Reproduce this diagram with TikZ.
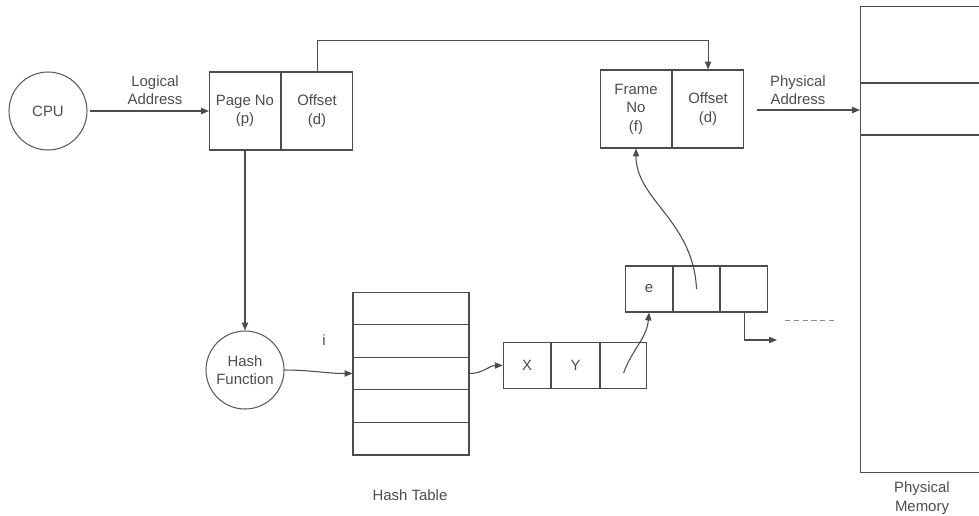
\documentclass[tikz,border=0pt]{standalone}
\usepackage{fontspec}
\setmainfont{Liberation Sans}
\usetikzlibrary{arrows.meta, positioning}

\begin{document}
\begin{tikzpicture}[
  x=0.02cm, y=-0.02cm,
  >={Triangle[length=4.5pt,width=3.6pt]},
  line width=0.6pt,
  every node/.style={align=center, inner sep=1pt, text=black!70, font=\fontsize{8.5}{10.5}\selectfont},
  ring/.style={draw=black!65, circle, minimum size=1.56cm},
  cell/.style={draw=black!70, minimum width=1.42cm, minimum height=1.56cm},
  slot/.style={draw=black!70, minimum width=0.93cm, minimum height=0.92cm},
  wire/.style={draw=black!70, ->}
]
\clip (0,0) rectangle (979,515);

\node[ring] (cpu) at (48,111) {CPU};
\node[cell] (pno) at (245,111) {Page No\\(p)};
\node[cell, right=0pt of pno] (poff) {Offset\\(d)};

\node[cell] (fno) at (636,109) {Frame\\No\\(f)};
\node[cell, right=0pt of fno] (foff) {Offset\\(d)};

\node[draw=black!70, minimum width=3.2cm, minimum height=9.32cm, anchor=north west] (mem) at (860,6) {};
\foreach \r in {83,135}
  \draw[black!70] (mem.west |- 0,\r) -- (mem.east |- 0,\r);

\node[ring] (hash) at (245,370) {Hash\\Function};
\node[draw=black!70, minimum width=2.32cm, minimum height=3.26cm] (table) at (411,373.5) {};
\foreach \r in {324.6,357.2,389.8,422.4}
  \draw[black!70] (table.west |- 0,\r) -- (table.east |- 0,\r);

% chained entries
\node[slot, minimum width=0.95cm] (x) at (527,365.5) {X};
\node[slot, minimum width=0.95cm, right=0pt of x] (y) {Y};
\node[slot, right=0pt of y] (nx1) {};
\node[slot] (e) at (649,289) {e};
\node[slot, right=0pt of e] (fr) {};
\node[slot, right=0pt of fr] (nx2) {};

\node (la) at (155,90) {Logical\\Address};
\node (pa) at (798,90) {Physical\\Address};
\node (idx) at (324,340) {i};
\node (ht) at (410,495) {Hash Table};
\node (pm) at (922,498) {Physical\\Memory};

\coordinate (cstart) at (90,111);
\coordinate (fstart) at (757,110);
\coordinate (tail) at (777,340);

\draw[wire] (cstart) -- (pno);
\draw[wire] (poff.north) -- ++(0,-31) -| (foff.north);
\draw[wire] (fstart) -- (fstart -| mem.west);
\draw[wire] (pno) -- (hash);
\draw[wire] (hash.east) to[out=0, in=180] (table.west);
\draw[wire] (table.east) to[out=0, in=180] (x.west);
\draw[wire] ([yshift=-0.15cm]nx1.center) to[out=70, in=-95] (e.south);
\draw[wire] (fr.center) .. controls (693,220) and (636,200) .. (fno.south);
\draw[wire] (nx2.south) |- (tail);
\draw[black!45, line width=0.4pt, dash pattern=on 3pt off 2pt] (785,320) -- (837,320);
\end{tikzpicture}
\end{document}
